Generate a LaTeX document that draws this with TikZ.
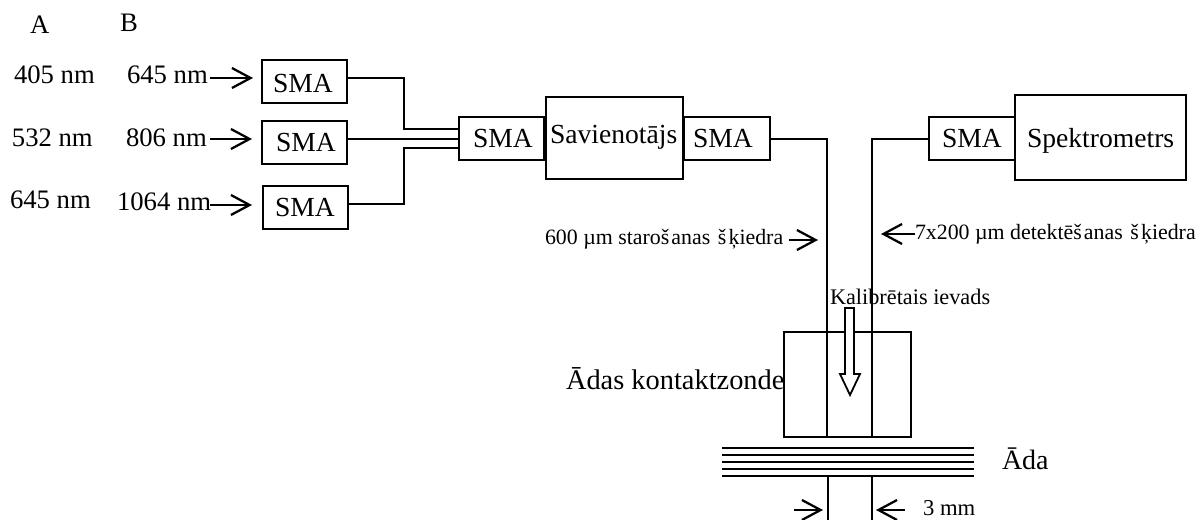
\documentclass[tikz,border=0pt]{standalone}
\usepackage{fontspec}
\setmainfont{Liberation Serif}
\usetikzlibrary{arrows.meta}
\tikzset{
  x=0.75pt,y=-0.75pt,
  wire/.style={line width=1.35pt,line join=miter},
  barb/.style={line width=1.7pt,-{Straight Barb[length=14pt,width=15pt,line width=1.7pt]}},
  boxn/.style={draw,line width=1.4pt,inner sep=0pt,outer sep=0pt},
  txt/.style={anchor=base west,inner sep=0pt,outer sep=0pt},
  big/.style={txt,font=\fontsize{20.7pt}{24pt}\selectfont},
  mid/.style={txt,font=\fontsize{20pt}{24pt}\selectfont},
  sml/.style={txt,font=\fontsize{16.4pt}{20pt}\selectfont},
  hollow/.style={line width=1.35pt,fill=white,line join=miter},
}
\newcommand{\bxn}[5]{%
  \pgfmathsetmacro{\bcx}{(#2+#4)/2}\pgfmathsetmacro{\bcy}{(#3+#5)/2}%
  \pgfmathsetmacro{\bw}{(#4-#2)*0.75}\pgfmathsetmacro{\bh}{(#5-#3)*0.75}%
  \node[boxn,minimum width=\bw pt,minimum height=\bh pt] (#1) at (\bcx,\bcy) {};}
\begin{document}
\begin{tikzpicture}
\useasboundingbox (0,0) rectangle (1199,520);
% boxes
\bxn{s1}{262}{60}{347}{103}
\bxn{s2}{262}{121}{347}{164}
\bxn{s3}{263}{186}{348}{229}
\bxn{sc}{459}{117}{544}{160}
\bxn{cpl}{546}{97}{683}{179}
\bxn{sr}{684}{117}{770}{160}
\bxn{sd}{929}{117}{1015}{160}
\bxn{spec}{1015}{95}{1186}{180}
\bxn{probe}{784}{332}{911}{437}
% fibres
\draw[wire] (s1.east |- 0,78) -- (404,78) -- (404,129) -- (sc.west |- 0,129);
\draw[wire] (s2.east |- 0,139) -- (sc.west |- 0,139);
\draw[wire] (s3.east |- 0,204) -- (404,204) -- (404,148) -- (sc.west |- 0,148);
\draw[wire] (sr.east |- 0,139) -- (827,139) -- (827,332) -- (827,437);
\draw[wire] (sd.west |- 0,139) -- (872,139) -- (872,332) -- (872,437);
% skin
\coordinate (skL) at (722,448); \coordinate (skR) at (974,448);
\foreach \yy in {448.3,455.3,462.3,468.7,475.7}
  \draw[line width=1.35pt] (skL |- 0,\yy) -- (skR |- 0,\yy);
\coordinate (d1a) at (828,476); \coordinate (d1b) at (828,520);
\coordinate (d2a) at (872,476); \coordinate (d2b) at (872,520);
\draw[wire] (d1a) -- (d1b);
\draw[wire] (d2a) -- (d2b);
% texts
\node[mid] (tA) at (30,34) {A};
\node[mid] (tB) at (120,32) {B};
\node[mid] (a1) at (14,84) {405 nm};
\node[mid] (a2) at (12,147) {532 nm};
\node[mid] (a3) at (10,209) {645 nm};
\node[mid] (b1) at (127,84) {645 nm};
\node[mid] (b2) at (126,147) {806 nm};
\node[mid] (b3) at (117,211) {1064 nm};
\node[big] (t1) at (273,93) {SMA};
\node[big] (t2) at (276,152) {SMA};
\node[big] (t3) at (275,217) {SMA};
\node[big] (t4) at (473,148) {SMA};
\node[big] (t5) at (693,148) {SMA};
\node[big] (t6) at (942,148) {SMA};
\node[big] (t7) at (550,144) {Savienotājs};
\node[big] (t8) at (1027,148) {Spektrometrs};
\node[sml] (l1) at (545,245) {600 µm staroš\kern1.6pt anas\kern1.6pt\ š\kern1.6pt ķiedra};
\node[sml] (l2) at (915,240) {7x200 µm detektēš\kern1.6pt anas\kern1.6pt\ š\kern1.6pt ķiedra};
\node[sml,font=\fontsize{16.7pt}{20pt}\selectfont] (l3) at (830,305) {Kalibrētais ievads};
\node[big,font=\fontsize{21.3pt}{24pt}\selectfont] (l4) at (566,389) {Ādas kontaktzonde};
\node[big,font=\fontsize{21pt}{24pt}\selectfont] (l5) at (1002,469) {Āda};
\node[sml,font=\fontsize{17pt}{20pt}\selectfont] (l6) at (923,515) {3 mm};
% pointer arrows
\coordinate (p1) at (210,78);  \coordinate (p2) at (210,139); \coordinate (p3) at (210,205);
\coordinate (q1) at (253,78);  \coordinate (q2) at (252,139); \coordinate (q3) at (252,205);
\draw[barb] (p1) -- (q1);
\draw[barb] (p2) -- (q2);
\draw[barb] (p3) -- (q3);
\coordinate (r1) at (789,240); \coordinate (r2) at (818,240);
\draw[barb] (r1) -- (r2);
\coordinate (r3) at (915,234); \coordinate (r4) at (881,234);
\draw[barb] (r3) -- (r4);
\coordinate (r5) at (794,510); \coordinate (r6) at (823,510);
\draw[barb] (r5) -- (r6);
\coordinate (r7) at (905,510); \coordinate (r8) at (876,510);
\draw[barb] (r7) -- (r8);
% hollow arrow
\draw[hollow] (845,308) -- (854,308) -- (854,374) -- (860,374) -- (850,395) -- (840,374) -- (845,374) -- cycle;
\end{tikzpicture}
\end{document}
